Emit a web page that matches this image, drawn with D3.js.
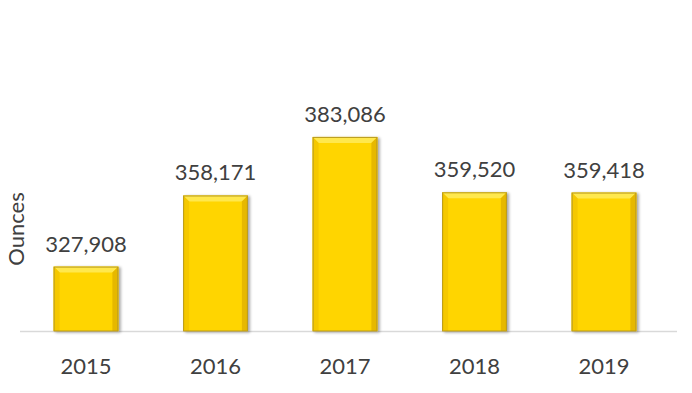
<!DOCTYPE html>
<html><head><meta charset="utf-8">
<script src="https://cdn.jsdelivr.net/npm/d3@7"></script>
<style>html,body{margin:0;padding:0;background:#fff;}svg{display:block;}</style>
</head><body>
<script>
const years = ["2015", "2016", "2017", "2018", "2019"];
const ounces = [327908, 358171, 383086, 359520, 359418];
const yAxisTitle = "Ounces";

const W = 692, H = 393;
const svg = d3.select("body").append("svg").attr("width", W).attr("height", H);
const defs = svg.append("defs");
const f = defs.append("filter").attr("id","sh").attr("x","-20%").attr("y","-20%").attr("width","150%").attr("height","150%");
f.append("feGaussianBlur").attr("in","SourceAlpha").attr("stdDeviation",1.5).attr("result","b");
f.append("feOffset").attr("in","b").attr("dx",2).attr("dy",1).attr("result","o");
f.append("feComponentTransfer").attr("in","o").attr("result","o2").append("feFuncA").attr("type","linear").attr("slope",0.35);
const m = f.append("feMerge"); m.append("feMergeNode").attr("in","o2"); m.append("feMergeNode").attr("in","SourceGraphic");

const x = d3.scaleBand().domain(years).range([21.25, 668.75]).paddingInner(0.5).paddingOuter(0.25);
const y = d3.scaleLinear().domain([300500, 420000]).range([331, 331 - (420000-300500)*0.00235]);

const font = "Lato, 'Open Sans', sans-serif";
const txt = "#404040";
const fs = 22;

// axis line
svg.append("line").attr("x1", 20).attr("x2", 677).attr("y1", 331.5).attr("y2", 331.5)
  .attr("stroke", "#d9d9d9").attr("stroke-width", 1.5);

const bev = 6;
const g = svg.append("g").selectAll("g").data(years).join("g").attr("filter","url(#sh)");
g.each(function(d, i) {
  const gg = d3.select(this);
  const x0 = x(d), w = x.bandwidth(), y0 = y(ounces[i]), y1 = y(300500), h = y1 - y0;
  gg.append("rect").attr("x", x0).attr("y", y0).attr("width", w).attr("height", h).attr("fill", "#FFD500");
  gg.append("path").attr("d", `M${x0},${y0}L${x0+w},${y0}L${x0+w-bev},${y0+bev}L${x0+bev},${y0+bev}Z`).attr("fill", "#FFE84D");
  gg.append("path").attr("d", `M${x0},${y0}L${x0+bev},${y0+bev}L${x0+bev},${y1}L${x0},${y1}Z`).attr("fill", "#F5C800");
  gg.append("path").attr("d", `M${x0+w},${y0}L${x0+w-bev},${y0+bev}L${x0+w-bev},${y1}L${x0+w},${y1}Z`).attr("fill", "#E6B800");
  gg.append("rect").attr("x", x0+0.5).attr("y", y0+0.5).attr("width", w-1).attr("height", h-0.5)
    .attr("fill", "none").attr("stroke", "#B89A20").attr("stroke-width", 1);
});

svg.append("g").selectAll("text").data(years).join("text")
  .attr("x", d => x(d) + x.bandwidth()/2)
  .attr("y", (d, i) => y(ounces[i]) - 15)
  .attr("text-anchor", "middle").attr("font-family", font).attr("font-size", fs).attr("fill", txt)
  .text((d, i) => d3.format(",")(ounces[i]));

const xAxis = svg.append("g").attr("transform", "translate(0,331)")
  .call(d3.axisBottom(x).tickSize(0).tickPadding(27));
xAxis.select(".domain").remove();
xAxis.selectAll("text").attr("font-family", font).attr("font-size", fs).attr("fill", txt);

svg.append("text").attr("transform", "translate(24,229) rotate(-90)")
  .attr("text-anchor", "middle").attr("font-family", font).attr("font-size", fs).attr("fill", txt)
  .text(yAxisTitle);
</script>
</body></html>
